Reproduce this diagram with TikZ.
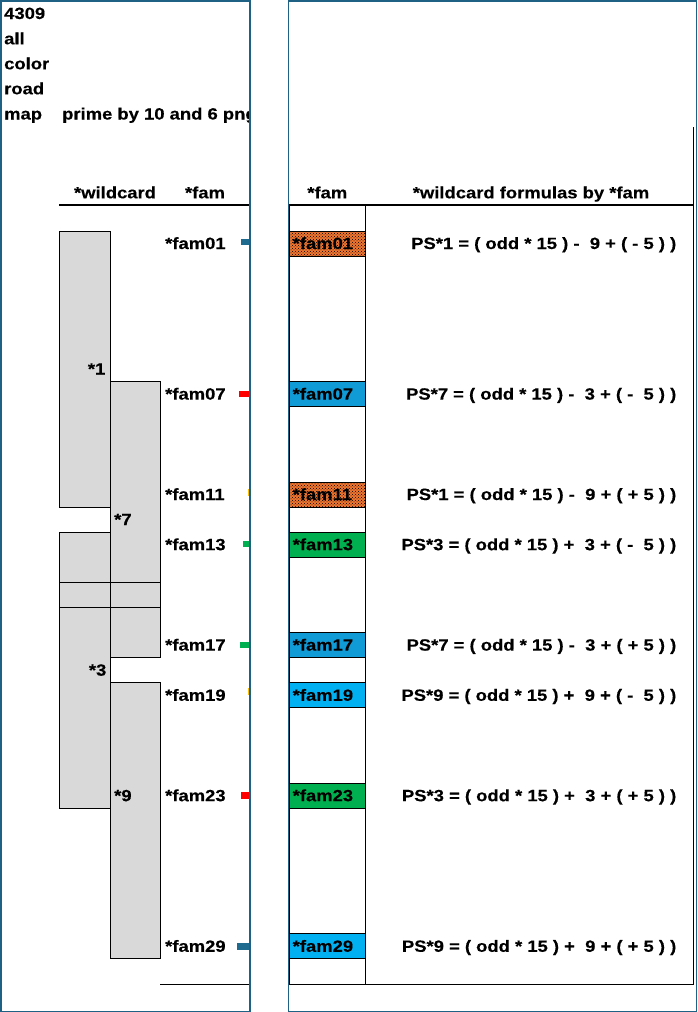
\documentclass[tikz,border=0pt]{standalone}
\usepackage{fontspec}
\setmainfont{Liberation Sans}[FakeStretch=1.13, FakeBold=0.35]
\usetikzlibrary{patterns}
\definecolor{panelblue}{RGB}{31,97,133}
\definecolor{cellgray}{RGB}{217,217,217}
\definecolor{famorange}{RGB}{240,118,48}
\definecolor{famblue}{RGB}{16,154,214}
\definecolor{famgreen}{RGB}{0,176,80}
\definecolor{famcyan}{RGB}{0,176,240}
\definecolor{markteal}{RGB}{31,107,143}
\definecolor{markred}{RGB}{255,0,0}
\definecolor{markgreen}{RGB}{0,176,80}
\definecolor{markyellow}{RGB}{255,192,0}
\begin{document}
\begin{tikzpicture}[x=1pt,y=-1pt,
  lbl/.style={inner sep=0pt, font=\fontsize{16.3}{19}\selectfont\bfseries},
  cell/.style={draw=black, line width=1pt, fill=cellgray},
  rule/.style={draw=black, line width=1pt},
  hrule/.style={draw=black, line width=2pt},
  panelframe/.style={draw=panelblue, line width=1.5pt},
  fambox/.style={draw=black, line width=1pt, minimum width=76.1pt, minimum height=25.1pt, inner sep=0pt},
  famA/.style={fambox, fill=famorange, postaction={pattern=crosshatch dots, pattern color=black}},
  famB/.style={fambox, fill=famblue},
  famC/.style={fambox, fill=famgreen},
  famD/.style={fambox, fill=famcyan},
]
\useasboundingbox (0,0) rectangle (697,1012);

% ---------- left panel ----------
\begin{scope}
  \clip (1.5,1.5) rectangle (249.25,1010.5);
  \node[lbl, anchor=base west] (t4309) at (4,19) {4309};
  \node[lbl, anchor=base west] (tall) at (4,44.3) {all};
  \node[lbl, anchor=base west] (tcolor) at (4,69.3) {color};
  \node[lbl, anchor=base west] (troad) at (4,94.3) {road};
  \node[lbl, anchor=base west] (tmap) at (4,119.5) {map};
  \node[lbl, anchor=base west] (tprime) at (62,119.5) {prime by 10 and 6 png};
\end{scope}

\node[lbl, anchor=base] (hwild) at (115,198.3) {*wildcard};
\node[lbl, anchor=base] (hfamL) at (205,198.3) {*fam};
\draw[hrule] (59,204.5) -- (249.5,204.5);

% wildcard cells
\draw[cell] (59.3,231.0) rectangle (110.7,507.1);
\draw[cell] (59.3,532.2) rectangle (110.7,582.4);
\draw[cell] (59.3,582.4) rectangle (110.7,607.5);
\draw[cell] (59.3,607.5) rectangle (110.7,808.3);
\draw[cell] (110.7,381.6) rectangle (160.3,582.4);
\draw[cell] (110.7,582.4) rectangle (160.3,607.5);
\draw[cell] (110.7,607.5) rectangle (160.3,657.7);
\draw[cell] (110.7,682.8) rectangle (160.3,958.9);

\node[lbl, anchor=base east] (w1) at (105.5,374.5) {*1};
\node[lbl, anchor=base west] (w7) at (114,525.1) {*7};
\node[lbl, anchor=base east] (w3) at (106.5,675.7) {*3};
\node[lbl, anchor=base west] (w9) at (114,801.2) {*9};

\draw[rule] (160.3,984) -- (249.5,984);

% ---------- right panel ----------
\node[lbl, anchor=base] (hfamR) at (327.3,198.3) {*fam};
\node[lbl, anchor=base] (hform) at (531,198.3) {*wildcard formulas by *fam};
\draw[hrule] (288.5,205) -- (694.3,205);
\draw[rule] (289.7,205) -- (289.7,984);
\draw[rule] (365.7,205) -- (365.7,984);
\draw[rule] (693.6,127) -- (693.6,984);
\draw[rule] (289.2,984) -- (694.1,984);

% ---------- family rows ----------
\foreach \id/\n/\bx/\mc/\mx/\mya/\myb/\formula in {
  01/1/famA/markteal/240.7/239/245/{PS*1 = ( odd * 15 ) -~~9 + ( - 5 ) )},
  07/7/famB/markred/238.5/390.7/396.7/{PS*7 = ( odd * 15 ) -~~3 + ( -~~5 ) )},
  11/11/famA/markyellow/247.6/489.3/495.7/{PS*1 = ( odd * 15 ) -~~9 + ( + 5 ) )},
  13/13/famC/markgreen/243.3/541/547.3/{PS*3 = ( odd * 15 ) +~~3 + ( -~~5 ) )},
  17/17/famB/markgreen/240/641.7/648.3/{PS*7 = ( odd * 15 ) -~~3 + ( + 5 ) )},
  19/19/famD/markyellow/248.1/688.3/695/{PS*9 = ( odd * 15 ) +~~9 + ( -~~5 ) )},
  23/23/famC/markred/241/792.3/799/{PS*3 = ( odd * 15 ) +~~3 + ( + 5 ) )},
  29/29/famD/markteal/237.3/943.3/950/{PS*9 = ( odd * 15 ) +~~9 + ( + 5 ) )}} {
  \pgfmathsetmacro\yt{205.9+\n*25.1}
  \pgfmathsetmacro\yc{\yt+12.55}
  \pgfmathsetmacro\yb{\yt+18}
  \node[lbl, anchor=base west] (lf\id) at (165,\yb) {*fam\id};
  \fill[\mc] (\mx,\mya) rectangle (249.3,\myb);
  \node[\bx] (rb\id) at (327.65,\yc) {};
  \node[lbl, anchor=base west] (rt\id) at (292.5,\yb) {*fam\id};
  \node[lbl, anchor=base east] (fm\id) at (676.5,\yb) {\formula};
}

% panel frames on top
\draw[panelframe] (0.75,0.75) rectangle (250,1011.25);
\draw[panelframe] (288.5,0.75) rectangle (696.25,1011.25);
\end{tikzpicture}
\end{document}
